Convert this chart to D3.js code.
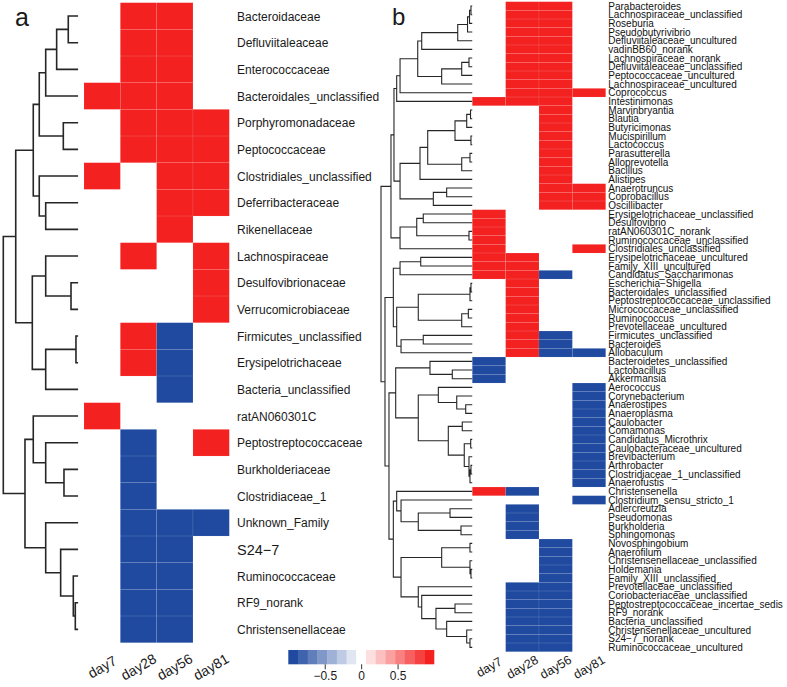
<!DOCTYPE html>
<html><head><meta charset="utf-8">
<script src="https://cdn.jsdelivr.net/npm/d3@7"></script>
<style>body{margin:0;background:#fff} svg{display:block}</style>
</head><body>
<svg id="chart" width="787" height="687"></svg>
<script>
// ---------------- DATA ----------------
const days = ["day7","day28","day56","day81"];

const taxaA = ["Bacteroidaceae","Defluviitaleaceae","Enterococcaceae","Bacteroidales_unclassified","Porphyromonadaceae","Peptococcaceae","Clostridiales_unclassified","Deferribacteraceae","Rikenellaceae","Lachnospiraceae","Desulfovibrionaceae","Verrucomicrobiaceae","Firmicutes_unclassified","Erysipelotrichaceae","Bacteria_unclassified","ratAN060301C","Peptostreptococcaceae","Burkholderiaceae","Clostridiaceae_1","Unknown_Family","S24\u22127","Ruminococcaceae","RF9_norank","Christensenellaceae"];

const valuesA = [
[0,1,1,0],[0,1,1,0],[0,1,1,0],[1,1,1,0],[0,1,1,1],[0,1,1,1],
[1,0,1,1],[0,0,1,1],[0,0,1,0],[0,1,0,1],[0,0,0,1],[0,0,0,1],
[0,1,-1,0],[0,1,-1,0],[0,0,-1,0],[1,0,0,0],[0,-1,0,1],[0,-1,0,0],
[0,-1,0,0],[0,-1,-1,-1],[0,-1,-1,0],[0,-1,-1,0],[0,-1,-1,0],[0,-1,-1,0]];

// dendrogram: [mergeHeight, left, right]; leaves = row index
const treeA = [100,
  [83.2,
    [59.5,
      [51.4, [42.7, [27.9, [12.2, 0, 1], 2], 3], [18.9, 4, 5]],
      [51.4, 6, [42.7, 7, 8]]],
    [60.8,
      [42.7, 9, [8.5, 10, 11]],
      [42.7, [1.8, 12, 13], 14]]],
  [70.7,
    [59.5, 15, [42.7, 16, [18.0, 17, 18]]],
    [42.7, 19, [22.5, 20, [5.4, 21, [2.7, 22, 23]]]]]];

const taxaB = ["Parabacteroides","Lachnospiraceae_unclassified","Roseburia","Pseudobutyrivibrio","Defluviitaleaceae_uncultured","vadinBB60_norank","Lachnospiraceae_norank","Defluviitaleaceae_unclassified","Peptococcaceae_uncultured","Lachnospiraceae_uncultured","Coprococcus","Intestinimonas","Marvinbryantia","Blautia","Butyricimonas","Mucispirillum","Lactococcus","Parasutterella","Alloprevotella","Bacillus","Alistipes","Anaerotruncus","Coprobacillus","Oscillibacter","Erysipelotrichaceae_unclassified","Desulfovibrio","ratAN060301C_norank","Ruminococcaceae_unclassified","Clostridiales_unclassified","Erysipelotrichaceae_uncultured","Family_XIII_uncultured","Candidatus_Saccharimonas","Escherichia\u2212Shigella","Bacteroidales_unclassified","Peptostreptococcaceae_unclassified","Micrococcaceae_unclassified","Ruminococcus","Prevotellaceae_uncultured","Firmicutes_unclassified","Bacteroides","Allobaculum","Bacteroidetes_unclassified","Lactobacillus","Akkermansia","Aerococcus","Corynebacterium","Anaerostipes","Anaeroplasma","Caulobacter","Comamonas","Candidatus_Microthrix","Caulobacteraceae_uncultured","Brevibacterium","Arthrobacter","Clostridiaceae_1_unclassified","Anaerofustis","Christensenella","Clostridium_sensu_stricto_1","Adlercreutzia","Pseudomonas","Burkholderia","Sphingomonas","Novosphingobium","Anaerofilum","Christensenellaceae_unclassified","Holdemania","Family_XIII_unclassified","Prevotellaceae_unclassified","Coriobacteriaceae_unclassified","Peptostreptococcaceae_incertae_sedis","RF9_norank","Bacteria_unclassified","Christensenellaceae_uncultured","S24\u22127_norank","Ruminococcaceae_uncultured"];

const valuesB = [
[0,1,1,0],[0,1,1,0],[0,1,1,0],[0,1,1,0],[0,1,1,0],
[0,1,1,0],[0,1,1,0],[0,1,1,0],[0,1,1,0],[0,1,1,0],
[0,1,1,1],[1,1,1,0],
[0,0,1,0],[0,0,1,0],[0,0,1,0],[0,0,1,0],[0,0,1,0],
[0,0,1,0],[0,0,1,0],[0,0,1,0],[0,0,1,0],
[0,0,1,1],[0,0,1,1],[0,0,1,1],
[1,0,0,0],[1,0,0,0],[1,0,0,0],[1,0,0,0],
[1,0,0,1],
[1,1,0,0],[1,1,0,0],
[1,1,-1,0],
[0,1,0,0],[0,1,0,0],[0,1,0,0],[0,1,0,0],[0,1,0,0],[0,1,0,0],
[0,1,-1,0],[0,1,-1,0],
[0,1,-1,-1],
[-1,0,0,0],[-1,0,0,0],[-1,0,0,0],
[0,0,0,-1],[0,0,0,-1],[0,0,0,-1],[0,0,0,-1],[0,0,0,-1],[0,0,0,-1],
[0,0,0,-1],[0,0,0,-1],[0,0,0,-1],[0,0,0,-1],[0,0,0,-1],[0,0,0,-1],
[1,-1,0,0],
[0,0,0,-1],
[0,-1,0,0],[0,-1,0,0],[0,-1,0,0],[0,-1,0,0],
[0,0,-1,0],[0,0,-1,0],[0,0,-1,0],[0,0,-1,0],[0,0,-1,0],
[0,-1,-1,0],[0,-1,-1,0],[0,-1,-1,0],[0,-1,-1,0],
[0,-1,-1,0],[0,-1,-1,0],[0,-1,-1,0],[0,-1,-1,0]];

const treeB1 = [82.7,
  [79.0,
    [59.5,
      [55.1, [15.4, [4.6, [2.4, [0.8, 0, 1], 2], 3], 4], 5],
      [33.1, [11.0, [3.0, 6, 7], 8], 9]],
    10],
  11];
const treeB2 = [79.0,
  [57.0,
    [48.5,
      [18.4, [5.5, [1.3, 12, 13], 14], [0.8, 15, 16]],
      [11.0, [1.9, 17, 18], 19]],
    20],
  [42.3, [27.6, 21, 22], 23]];
const treeB3 = [79.0, [60.6, [53.4, 24, 25], [3.0, 26, 27]], 28];
const treeB4 = [86.4,
  [79.0, [56.2, 29, 30], 31],
  [82.7,
    [58.9, [1.9, [0.8, 32, 33], 34], [11.0, [3.7, 35, 36], 37]],
    [77.9, [53.4, 38, 39], 40]]];
const treeB5 = [83.8,
  [46.0, 41, [21.4, 42, 43]],
  [58.9,
    [36.8, 44, [16.5, 45, [6.6, 46, 47]]],
    [25.8, [10.4, 48, 49], [8.2, [1.1, 50, 51], [3.0, 52, [1.9, [0.8, 53, 54], 55]]]]]];
const treeB6 = [86.4,
  [82.7, 56, [77.9, 57, [58.9, [23.9, 58, 59], [11.8, 60, 61]]]],
  [77.9,
    [33.1, [1.9, 62, 63], [1.9, 64, [0.8, 65, 66]]],
    [58.9, 67, [55.1, 68, [39.4, [18.4, 69, 70], [27.6, 71, [5.5, 72, [1.9, 73, 74]]]]]]]];
const treeB = [100,
  [89.0, [85.7, treeB1, treeB2], treeB3],
  [95.6, treeB4, [91.2, treeB5, treeB6]]];

const legendTicks = [-0.5, 0, 0.5];
const nSteps = 15;

// ---------------- STYLE ----------------
const BLUE = "#1f4a9f", RED = "#f42121";
const FONT = "'Liberation Sans', Arial, Helvetica, sans-serif";
const palette = d3.range(nSteps).map(i => {
  const mid = (nSteps - 1) / 2;
  return i <= mid ? d3.interpolateRgb(BLUE, "#ffffff")(i / mid)
                  : d3.interpolateRgb("#ffffff", RED)((i - mid) / mid);
});
const color = d3.scaleQuantize().domain([-1, 1]).range(palette);

const svg = d3.select("#chart").style("font-family", FONT);

function drawDendro(g, tree, yBand, xScale, sw) {
  const toNode = t => Array.isArray(t)
    ? {h: t[0], children: [toNode(t[1]), toNode(t[2])]}
    : {h: 0, leaf: t};
  const root = d3.hierarchy(toNode(tree));
  root.eachAfter(n => {
    n.px = xScale(n.data.h);
    n.py = n.children ? (n.children[0].py + n.children[1].py) / 2
                      : yBand(n.data.leaf) + yBand.bandwidth() / 2;
  });
  const p = d3.path();
  root.each(n => {
    if (!n.children) return;
    p.moveTo(n.px, n.children[0].py); p.lineTo(n.px, n.children[1].py);
    n.children.forEach(c => { p.moveTo(n.px, c.py); p.lineTo(c.px, c.py); });
  });
  g.append("path").attr("d", p.toString()).attr("fill", "none")
    .attr("stroke", "#262626").attr("stroke-width", sw).attr("stroke-linecap", "square");
}

function drawHeat(g, values, xBand, yBand) {
  const cells = [];
  values.forEach((row, r) => row.forEach((v, c) => { if (v !== 0) cells.push({r, c, v}); }));
  g.selectAll("rect.cell").data(cells).join("rect").attr("class", "cell")
    .attr("x", d => xBand(days[d.c])).attr("y", d => yBand(d.r))
    .attr("width", xBand.bandwidth()).attr("height", yBand.bandwidth())
    .attr("fill", d => color(d.v))
    .attr("stroke", "rgba(255,255,255,0.1)").attr("stroke-width", 0.8);
}

// ---------------- PANEL A ----------------
const gA = svg.append("g");
const yA = d3.scaleBand().domain(d3.range(taxaA.length)).range([2.7, 642.7]);
const xA = d3.scaleBand().domain(days).range([84, 229.3]);
const hA = d3.scaleLinear().domain([0, 100]).range([77.3, 3.3]);
drawDendro(gA, treeA, yA, hA, 1.6);
drawHeat(gA, valuesA, xA, yA);
gA.selectAll("text.lab").data(taxaA).join("text").attr("class", "lab")
  .attr("x", 237).attr("y", (d, i) => yA(i) + yA.bandwidth() / 2)
  .attr("dy", "0.38em").attr("font-size", d => d.startsWith("S24") ? 14.5 : 12)
  .attr("fill", "#1a1a1a").text(d => d);
gA.selectAll("text.day").data(days).join("text").attr("class", "day")
  .attr("transform", d => `translate(${xA(d) + xA.bandwidth() / 2},667) rotate(-30)`)
  .attr("text-anchor", "middle").attr("dy", "0.35em").attr("font-size", 14)
  .attr("fill", "#1a1a1a").text(d => d);
svg.append("text").attr("x", 15).attr("y", 26).attr("font-size", 25).attr("fill", "#1a1a1a").text("a");

// ---------------- PANEL B ----------------
const gB = svg.append("g");
const yB = d3.scaleBand().domain(d3.range(taxaB.length)).range([1.7, 651.7]);
const xB = d3.scaleBand().domain(days).range([472.3, 605.7]);
const hB = d3.scaleLinear().domain([0, 100]).range([471.7, 381]);
drawDendro(gB, treeB, yB, hB, 1.1);
drawHeat(gB, valuesB, xB, yB);
gB.selectAll("text.lab").data(taxaB).join("text").attr("class", "lab")
  .attr("x", 608.3).attr("y", (d, i) => yB(i) + yB.bandwidth() / 2)
  .attr("dy", "0.36em").attr("font-size", 10).attr("fill", "#111").text(d => d);
gB.selectAll("text.day").data(days).join("text").attr("class", "day")
  .attr("transform", d => `translate(${xB(d) + xB.bandwidth() / 2},667) rotate(-30)`)
  .attr("text-anchor", "middle").attr("dy", "0.35em").attr("font-size", 12.5)
  .attr("fill", "#1a1a1a").text(d => d);
svg.append("text").attr("x", 392).attr("y", 25).attr("font-size", 24).attr("fill", "#1a1a1a").text("b");

// ---------------- LEGEND ----------------
const lx = d3.scaleLinear().domain([-1, 1]).range([288.3, 434]);
const gL = svg.append("g");
gL.selectAll("rect").data(palette).join("rect")
  .attr("x", (d, i) => lx(-1 + i * 2 / nSteps)).attr("y", 650)
  .attr("width", (d, i) => lx(-1 + (i + 1) * 2 / nSteps) - lx(-1 + i * 2 / nSteps) + 0.3)
  .attr("height", 14.3).attr("fill", d => d);
const axis = d3.axisBottom(lx).tickValues(legendTicks).tickSize(5).tickPadding(2)
  .tickFormat(d3.format(""));
const gAx = gL.append("g").attr("transform", "translate(0,664.3)").call(axis);
gAx.select(".domain").remove();
gAx.selectAll("line").attr("stroke", "#333");
gAx.selectAll("text").attr("font-size", 12).attr("font-family", FONT).attr("fill", "#1a1a1a");
</script>
</body></html>
